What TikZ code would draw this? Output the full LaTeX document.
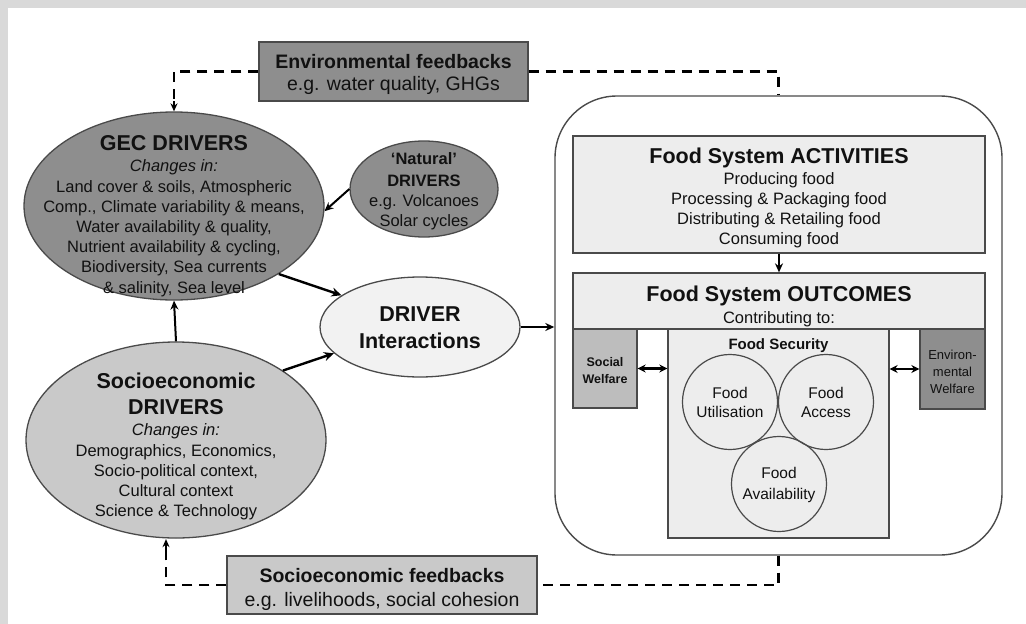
\documentclass[tikz,border=0pt]{standalone}
\usepackage{fontspec}
\setmainfont{Liberation Sans}
\usetikzlibrary{shapes.geometric,arrows.meta}
\definecolor{band}{HTML}{D9D9D9}
\definecolor{dkfill}{HTML}{8E8E8E}
\definecolor{ltfill}{HTML}{C9C9C9}
\definecolor{palefill}{HTML}{EDEDED}
\definecolor{drvfill}{HTML}{F2F2F2}
\definecolor{swfill}{HTML}{BDBDBD}
\definecolor{edge}{HTML}{4A4A4A}
\definecolor{ink}{HTML}{111111}
\begin{document}
\begin{tikzpicture}[x=1pt,y=-1pt,
  tx/.style={anchor=base,inner sep=0pt,text=ink,font=\fontsize{16.5}{20}\selectfont},
  txi/.style={tx,font=\fontsize{16.5}{20}\selectfont\itshape},
  ttl/.style={anchor=base,inner sep=0pt,text=ink,font=\fontsize{21.5}{24}\selectfont\bfseries},
  fbb/.style={anchor=base,inner sep=0pt,text=ink,font=\fontsize{19.5}{22}\selectfont\bfseries},
  fbr/.style={anchor=base,inner sep=0pt,text=ink,font=\fontsize{19.5}{22}\selectfont},
  sml/.style={anchor=base,inner sep=0pt,text=ink,font=\fontsize{15.5}{18}\selectfont},
  ell/.style={ellipse,draw=edge,line width=1.3pt,inner sep=0pt},
  boxx/.style={rectangle,draw=edge,line width=1.3pt,inner sep=0pt},
  conn/.style={line width=2.4pt,-{Stealth[length=10pt,width=9pt]}},
  thin/.style={line width=2pt,-{Stealth[length=9pt,width=8pt]}},
  dbl/.style={line width=2.4pt,{Stealth[length=8pt,width=8pt]}-{Stealth[length=8pt,width=8pt]}},
  fbline/.style={line width=2.8pt,dash pattern=on 10pt off 7pt},
]
\useasboundingbox (0,0) rectangle (1026,624);
\fill[white] (0,0) rectangle (1026,624);
\fill[band] (0,0) rectangle (1026,8);
\fill[band] (0,0) rectangle (8,624);

% ---------- shapes ----------
\node[ell,fill=dkfill,minimum width=300pt,minimum height=188pt] (gec) at (174,206) {};
\node[ell,fill=dkfill,minimum width=148pt,minimum height=96pt] (nat) at (424,189) {};
\node[ell,fill=drvfill,minimum width=200pt,minimum height=100pt] (drv) at (420,327) {};
\node[ell,fill=ltfill,minimum width=300pt,minimum height=196pt] (soc) at (176,440) {};

\node[boxx,fill=dkfill,minimum width=269pt,minimum height=59pt] (envfb) at (393.5,71.5) {};
\node[boxx,fill=ltfill,minimum width=310pt,minimum height=58pt] (socfb) at (382,585) {};

\node[draw=edge,line width=1.4pt,rounded corners=62pt,minimum width=447pt,minimum height=459pt,inner sep=0pt] (frame) at (778.5,325.5) {};

\node[boxx,fill=palefill,minimum width=412pt,minimum height=117pt] (act) at (779,194.5) {};
\node[boxx,fill=palefill,minimum width=412pt,minimum height=56pt] (outh) at (779,301) {};
\node[boxx,fill=swfill,minimum width=64pt,minimum height=79pt] (sw) at (605,368.5) {};
\node[boxx,fill=dkfill,minimum width=65pt,minimum height=80pt] (ew) at (952.5,369) {};
\node[boxx,fill=palefill,minimum width=221pt,minimum height=209pt] (fs) at (778.5,433.5) {};

\node[circle,draw=edge,line width=1.2pt,minimum size=95pt,inner sep=0pt] (cu) at (730,402) {};
\node[circle,draw=edge,line width=1.2pt,minimum size=95pt,inner sep=0pt] (ca) at (826,402) {};
\node[circle,draw=edge,line width=1.2pt,minimum size=95pt,inner sep=0pt] (cav) at (779,484) {};

% ---------- texts ----------
\node[ttl] (gecT) at (174,150) {GEC DRIVERS};
\node[txi] (gecC) at (174,171) {Changes in:};
\foreach \t [count=\i] in {{Land cover \& soils, Atmospheric},{Comp., Climate variability \& means,},{Water availability \& quality,},{Nutrient availability \& cycling,},{Biodiversity, Sea currents},{\& salinity, Sea level}}
  \node[tx] (gecL\i) at (174,{171.8+20.2*\i}) {\t};

\node[tx,font=\fontsize{16.5}{20}\selectfont\bfseries] (natA) at (424,164) {`Natural'};
\node[tx,font=\fontsize{16.5}{20}\selectfont\bfseries] (natB) at (424,186) {DRIVERS};
\node[tx] (natC) at (424,206) {e.g. Volcanoes};
\node[tx] (natD) at (424,226) {Solar cycles};

\node[ttl] (drvA) at (420,321) {DRIVER};
\node[ttl] (drvB) at (420,348) {Interactions};

\node[ttl] (socA) at (176,388) {Socioeconomic};
\node[ttl] (socB) at (176,414) {DRIVERS};
\node[txi] (socC) at (176,435) {Changes in:};
\foreach \t [count=\i] in {{Demographics, Economics,},{Socio-political context,},{Cultural context},{Science \& Technology}}
  \node[tx] (socL\i) at (176,{436+20*\i}) {\t};

\node[fbb] (envA) at (393.5,68) {Environmental feedbacks};
\node[fbr] (envB) at (393.5,90) {e.g. water quality, GHGs};
\node[fbb] (sfbA) at (382,582) {Socioeconomic feedbacks};
\node[fbr] (sfbB) at (382,606) {e.g. livelihoods, social cohesion};

\node[ttl] (actT) at (779,163) {Food System ACTIVITIES};
\foreach \t [count=\i] in {{Producing food},{Processing \& Packaging food},{Distributing \& Retailing food},{Consuming food}}
  \node[tx] (actL\i) at (779,{164+20*\i}) {\t};

\node[ttl] (outT) at (779,301) {Food System OUTCOMES};
\node[tx] (outC) at (779,323) {Contributing to:};
\node[tx,font=\fontsize{15}{18}\selectfont\bfseries] (fsT) at (778.5,349) {Food Security};

\node[sml] (cuA) at (730,398) {Food};
\node[sml] (cuB) at (730,417) {Utilisation};
\node[sml] (caA) at (826,398) {Food};
\node[sml] (caB) at (826,417) {Access};
\node[sml] (cavA) at (779,478) {Food};
\node[sml] (cavB) at (779,499) {Availability};

\node[anchor=base,inner sep=0pt,text=ink,font=\fontsize{12.5}{15}\selectfont\bfseries] (swA) at (605,366) {Social};
\node[anchor=base,inner sep=0pt,text=ink,font=\fontsize{12.5}{15}\selectfont\bfseries] (swB) at (605,383) {Welfare};
\node[anchor=base,inner sep=0pt,text=ink,font=\fontsize{13}{15}\selectfont] (ewA) at (952.5,359) {Environ-};
\node[anchor=base,inner sep=0pt,text=ink,font=\fontsize{13}{15}\selectfont] (ewB) at (952.5,376) {mental};
\node[anchor=base,inner sep=0pt,text=ink,font=\fontsize{13}{15}\selectfont] (ewC) at (952.5,393) {Welfare};

% ---------- connectors ----------
\draw[conn] (gec.-33) -- (drv.158);
\draw[conn] (soc.33) -- (drv.197);
\draw[thin] (nat.west) -- (gec.-2);
\draw[thin] (soc.north) -- (gec.south);
\draw[thin] (drv.east) -- (drv.east -| frame.west);
\draw[thin] (act.south) -- (outh.north);
\draw[dbl] (sw.east) -- (sw.east -| fs.west);
\draw[dbl] (ew.west) -- (ew.west -| fs.east);

\draw[fbline] (envfb.west) -| ([yshift=9pt]gec.north);
\draw[line width=1.8pt,-{Stealth[length=8pt,width=7pt]}] ([yshift=10pt]gec.north) -- (gec.north);
\draw[fbline] (envfb.east) -| (frame.north);
\draw[fbline] (frame.south) |- (socfb.east);
\draw[fbline] (socfb.west) -| ([xshift=-10pt,yshift=-10pt]soc.south);
\draw[line width=1.8pt,-{Stealth[length=8pt,width=7pt]}] ([xshift=-10pt,yshift=-11pt]soc.south) -- ([xshift=-10pt,yshift=-0.5pt]soc.south);
\end{tikzpicture}
\end{document}
